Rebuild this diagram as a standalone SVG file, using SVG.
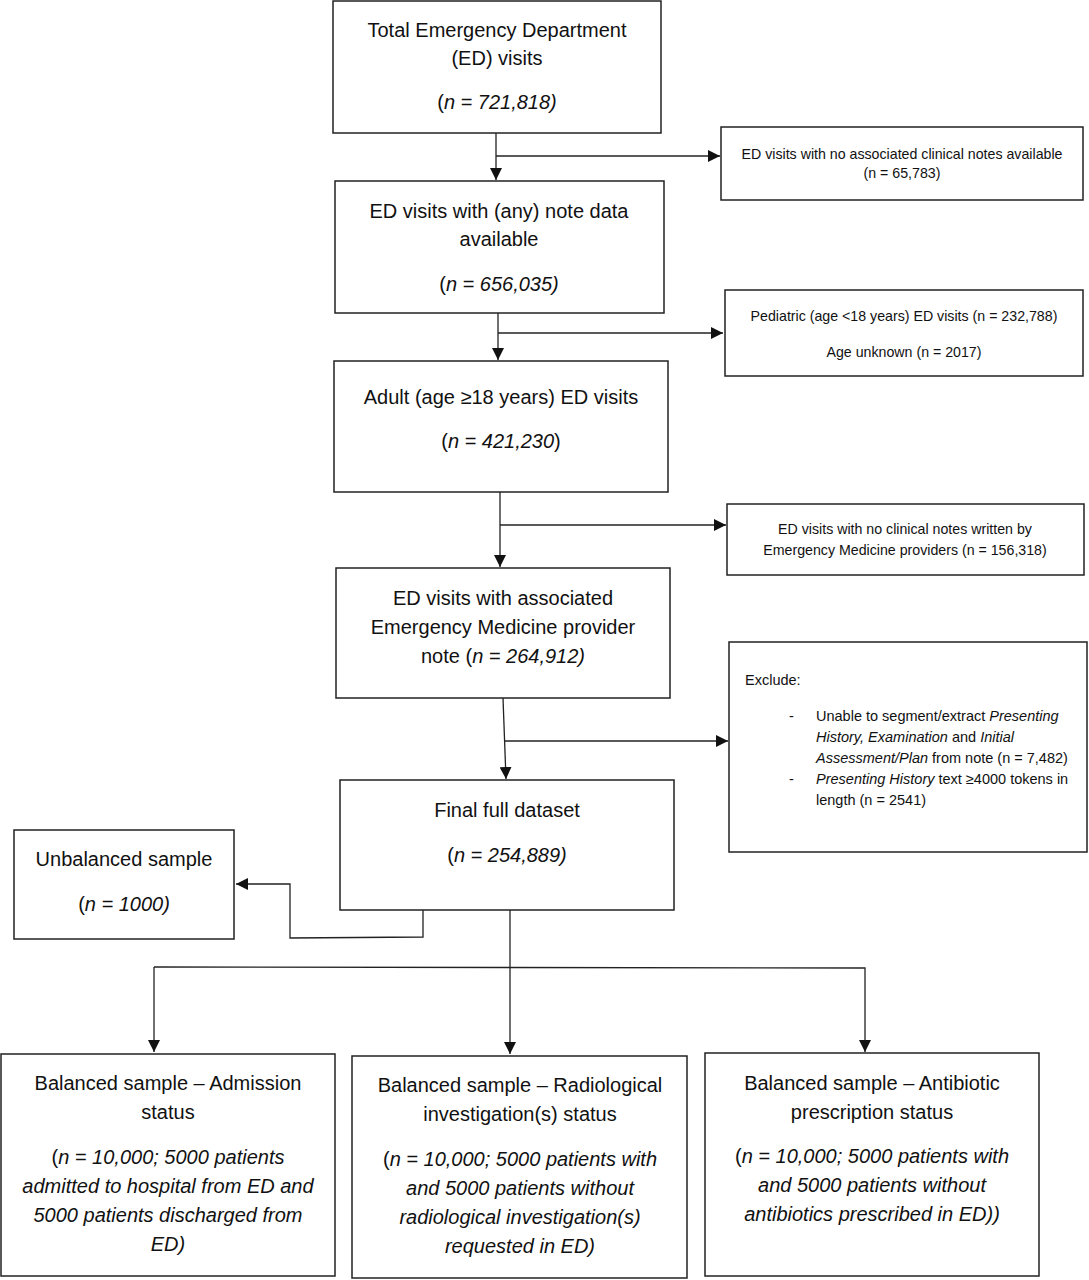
<svg xmlns="http://www.w3.org/2000/svg" width="1089" height="1280" viewBox="0 0 1089 1280">
<style>
.box{fill:#fff;stroke:#222;stroke-width:1.5}
.t{font-family:"Liberation Sans",Arial,sans-serif;font-size:20px;fill:#111;text-anchor:middle}
.s{font-family:"Liberation Sans",Arial,sans-serif;font-size:14.2px;fill:#111;text-anchor:middle}
.sl{font-family:"Liberation Sans",Arial,sans-serif;font-size:14.5px;fill:#111}
.i{font-style:italic}
.c{fill:none;stroke:#222;stroke-width:1.3}
</style>
<defs>
<marker id="ah" markerUnits="userSpaceOnUse" markerWidth="12" markerHeight="12" viewBox="0 0 12 12" refX="12" refY="6" orient="auto">
<path d="M0,0 L12,6 L0,12 Z" fill="#111"/>
</marker>
</defs>
<rect width="1089" height="1280" fill="#fff"/>

<g id="connectors">
<line class="c" x1="496" y1="133" x2="496" y2="180" marker-end="url(#ah)"/>
<line class="c" x1="496" y1="156" x2="720" y2="156" marker-end="url(#ah)"/>
<line class="c" x1="498" y1="313" x2="498" y2="360" marker-end="url(#ah)"/>
<line class="c" x1="498" y1="333" x2="723" y2="333" marker-end="url(#ah)"/>
<line class="c" x1="500" y1="492" x2="500" y2="567" marker-end="url(#ah)"/>
<line class="c" x1="500" y1="525" x2="726" y2="525" marker-end="url(#ah)"/>
<line class="c" x1="503" y1="698" x2="506" y2="779" marker-end="url(#ah)"/>
<line class="c" x1="505" y1="741" x2="728" y2="741" marker-end="url(#ah)"/>
<polyline class="c" points="423,910 423,937 290,938 290,884 236,884" marker-end="url(#ah)"/>
<line class="c" x1="510" y1="910" x2="510" y2="1054" marker-end="url(#ah)"/>
<polyline class="c" points="154,967 865,968 865,1052" marker-end="url(#ah)"/>
<line class="c" x1="154" y1="967" x2="154" y2="1052" marker-end="url(#ah)"/>
</g>

<g id="n1">
<rect class="box" x="333" y="1" width="328" height="132"/>
<text class="t" x="497" y="37">Total Emergency Department</text>
<text class="t" x="497" y="65">(ED) visits</text>
<text class="t" x="497" y="109">(<tspan class="i">n = 721,818)</tspan></text>
</g>

<g id="n2">
<rect class="box" x="721" y="127" width="362" height="73"/>
<text class="s" x="902" y="159">ED visits with no associated clinical notes available</text>
<text class="s" x="902" y="178">(n = 65,783)</text>
</g>

<g id="n3">
<rect class="box" x="335" y="181" width="329" height="132"/>
<text class="t" x="499" y="218">ED visits with (any) note data</text>
<text class="t" x="499" y="246">available</text>
<text class="t" x="499" y="291">(<tspan class="i">n = 656,035)</tspan></text>
</g>

<g id="n4">
<rect class="box" x="725" y="290" width="358" height="86"/>
<text class="s" x="904" y="321">Pediatric (age &lt;18 years) ED visits (n = 232,788)</text>
<text class="s" x="904" y="357">Age unknown (n = 2017)</text>
</g>

<g id="n5">
<rect class="box" x="334" y="361" width="334" height="131"/>
<text class="t" x="501" y="404">Adult (age ≥18 years) ED visits</text>
<text class="t" x="501" y="448">(<tspan class="i">n = 421,230</tspan>)</text>
</g>

<g id="n6">
<rect class="box" x="727" y="504" width="357" height="71"/>
<text class="s" x="905" y="534">ED visits with no clinical notes written by</text>
<text class="s" x="905" y="555">Emergency Medicine providers (n = 156,318)</text>
</g>

<g id="n7">
<rect class="box" x="336" y="568" width="334" height="130"/>
<text class="t" x="503" y="605">ED visits with associated</text>
<text class="t" x="503" y="634">Emergency Medicine provider</text>
<text class="t" x="503" y="663">note (<tspan class="i">n = 264,912)</tspan></text>
</g>

<g id="n8">
<rect class="box" x="729" y="642" width="358" height="210"/>
<text class="sl" x="745" y="685">Exclude:</text>
<text class="sl" x="789" y="721">-</text>
<text class="sl" x="816" y="721">Unable to segment/extract <tspan class="i">Presenting</tspan></text>
<text class="sl" x="816" y="742"><tspan class="i">History, Examination</tspan> and <tspan class="i">Initial</tspan></text>
<text class="sl" x="816" y="763"><tspan class="i">Assessment/Plan</tspan> from note (n = 7,482)</text>
<text class="sl" x="789" y="784">-</text>
<text class="sl" x="816" y="784"><tspan class="i">Presenting History</tspan> text ≥4000 tokens in</text>
<text class="sl" x="816" y="805">length (n = 2541)</text>
</g>

<g id="n9">
<rect class="box" x="340" y="780" width="334" height="130"/>
<text class="t" x="507" y="817">Final full dataset</text>
<text class="t" x="507" y="862">(<tspan class="i">n = 254,889)</tspan></text>
</g>

<g id="n10">
<rect class="box" x="14" y="830" width="220" height="109"/>
<text class="t" x="124" y="866">Unbalanced sample</text>
<text class="t" x="124" y="911">(<tspan class="i">n = 1000)</tspan></text>
</g>

<g id="n11">
<rect class="box" x="1" y="1054" width="334" height="222"/>
<text class="t" x="168" y="1090">Balanced sample – Admission</text>
<text class="t" x="168" y="1119">status</text>
<text class="t" x="168" y="1164">(<tspan class="i">n = 10,000; 5000 patients</tspan></text>
<text class="t i" x="168" y="1193">admitted to hospital from ED and</text>
<text class="t i" x="168" y="1222">5000 patients discharged from</text>
<text class="t i" x="168" y="1251">ED)</text>
</g>

<g id="n12">
<rect class="box" x="352" y="1056" width="335" height="222"/>
<text class="t" x="520" y="1092">Balanced sample – Radiological</text>
<text class="t" x="520" y="1121">investigation(s) status</text>
<text class="t" x="520" y="1166">(<tspan class="i">n = 10,000; 5000 patients with</tspan></text>
<text class="t i" x="520" y="1195">and 5000 patients without</text>
<text class="t i" x="520" y="1224">radiological investigation(s)</text>
<text class="t i" x="520" y="1253">requested in ED)</text>
</g>

<g id="n13">
<rect class="box" x="705" y="1053" width="334" height="223"/>
<text class="t" x="872" y="1090">Balanced sample – Antibiotic</text>
<text class="t" x="872" y="1119">prescription status</text>
<text class="t" x="872" y="1163">(<tspan class="i">n = 10,000; 5000 patients with</tspan></text>
<text class="t i" x="872" y="1192">and 5000 patients without</text>
<text class="t i" x="872" y="1221">antibiotics prescribed in ED))</text>
</g>
</svg>
